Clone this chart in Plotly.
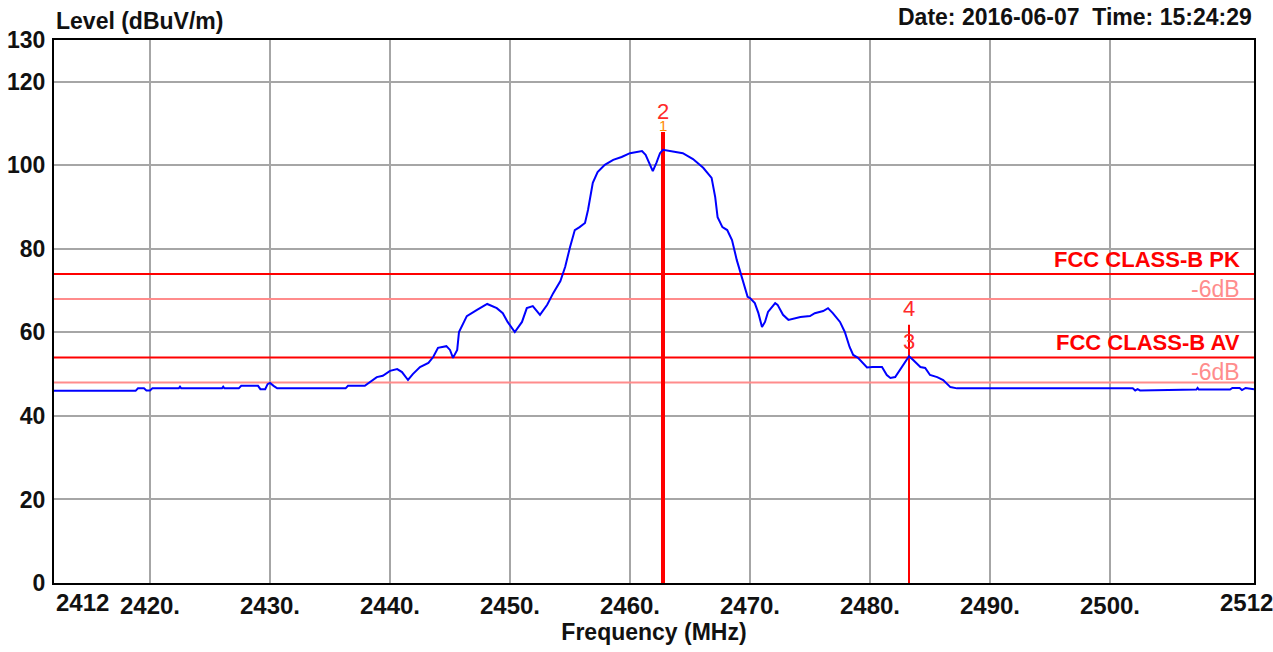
import plotly.graph_objects as go

# ---- data ----
freq_mhz = [
    2412.0, 2418.8, 2419.0, 2419.5, 2419.7, 2420.0, 2420.2, 2422.4, 2422.5, 2422.6,
    2426.0, 2426.1, 2426.2, 2427.4, 2427.6, 2429.0, 2429.2, 2429.6, 2429.8, 2430.0,
    2430.3, 2430.6, 2436.3, 2436.5, 2437.9, 2438.2, 2438.9, 2439.4, 2440.0, 2440.6,
    2441.0, 2441.5, 2441.9, 2442.5, 2443.2, 2443.6, 2444.0, 2444.7, 2445.0, 2445.25,
    2445.6, 2445.75, 2446.4, 2447.25, 2448.1, 2448.9, 2449.4, 2449.8, 2450.4, 2451.0,
    2451.4, 2451.9, 2452.5, 2453.1, 2453.6, 2454.2, 2454.6, 2455.0, 2455.4, 2455.8,
    2456.25, 2456.5, 2456.7, 2456.9, 2457.3, 2457.9, 2458.6, 2459.3, 2460.0, 2461.0,
    2461.3, 2461.7, 2461.9, 2462.2, 2462.5, 2462.75, 2463.6, 2464.4, 2465.25, 2466.1,
    2466.8, 2467.1, 2467.3, 2467.7, 2468.1, 2468.5, 2468.9, 2469.3, 2469.8, 2470.0,
    2470.4, 2470.7, 2471.0, 2471.25, 2471.5, 2472.1, 2472.3, 2472.75, 2473.2, 2474.2,
    2475.0, 2475.4, 2476.1, 2476.5, 2476.9, 2477.5, 2477.9, 2478.3, 2478.6, 2479.0,
    2479.75, 2480.2, 2481.0, 2481.4, 2481.7, 2482.1, 2482.5, 2482.9, 2483.25, 2483.6,
    2484.2, 2484.6, 2485.0, 2485.6, 2486.1, 2486.7, 2487.25, 2501.9, 2502.1, 2502.3,
    2502.5, 2507.2, 2507.3, 2507.4, 2510.0, 2510.2, 2510.8, 2511.0, 2511.3, 2512.0,
]
level_dbuv = [
    46.0, 46.0, 46.6, 46.6, 46.1, 46.1, 46.6, 46.6, 47.0, 46.6,
    46.6, 47.0, 46.6, 46.6, 47.2, 47.2, 46.4, 46.4, 47.6, 47.9,
    47.2, 46.6, 46.6, 47.2, 47.2, 47.9, 49.3, 49.6, 50.8, 51.2,
    50.5, 48.6, 50.0, 51.7, 52.7, 54.1, 56.3, 56.7, 55.8, 53.9,
    55.8, 60.1, 63.9, 65.4, 66.8, 65.8, 64.6, 62.5, 60.1, 62.5,
    65.8, 66.3, 64.2, 66.6, 69.4, 72.3, 75.7, 80.4, 84.5, 85.2,
    86.2, 89.3, 92.4, 95.8, 98.4, 100.1, 101.3, 102.0, 102.9, 103.4,
    102.5, 100.1, 98.6, 100.6, 102.9, 103.7, 103.2, 102.9, 101.5, 99.4,
    97.0, 92.4, 87.6, 85.2, 84.5, 82.1, 77.3, 73.3, 68.5, 68.2,
    67.0, 64.6, 61.3, 62.5, 64.9, 67.0, 66.6, 64.2, 63.0, 63.7,
    63.9, 64.6, 65.1, 65.8, 64.6, 62.5, 60.1, 56.5, 54.6, 53.9,
    51.6, 51.7, 51.7, 49.8, 49.1, 49.3, 51.0, 52.9, 54.3, 53.4,
    51.7, 51.5, 49.8, 49.3, 48.6, 46.9, 46.6, 46.6, 46.1, 46.4,
    46.1, 46.3, 46.7, 46.3, 46.3, 46.7, 46.7, 46.2, 46.7, 46.4,
]

limit_names = ["FCC CLASS-B PK", "-6dB", "FCC CLASS-B AV", "-6dB"]
limit_levels = [74, 68, 54, 48]

marker_ids = ["1", "2", "3", "4"]
marker_freqs = [2462.75, 2462.75, 2483.25, 2483.25]
marker_levels = [108.0, 103.7, 54.3, 61.8]

y_ticks = [0, 20, 40, 60, 80, 100, 120, 130]
x_ticks = [2420, 2430, 2440, 2450, 2460, 2470, 2480, 2490, 2500]
x_tick_text = ["2420.", "2430.", "2440.", "2450.", "2460.", "2470.", "2480.", "2490.", "2500."]
x_range = [2412, 2512]
y_range = [0, 130]

FONT = "Liberation Sans, Arial, sans-serif"
RED = "#ff0000"
PINK = "#ff8c8c"
INK = "#111111"

fig = go.Figure()

# limit lines
for name, lvl in zip(limit_names, limit_levels):
    col = PINK if name == "-6dB" else RED
    fig.add_trace(go.Scatter(x=x_range, y=[lvl, lvl], mode="lines",
                             line=dict(color=col, width=2), hoverinfo="skip",
                             showlegend=False))

# marker lines (1/2 thick, 3/4 thin)
fig.add_trace(go.Scatter(x=[marker_freqs[0], marker_freqs[0]], y=[0, marker_levels[0]],
                         mode="lines", line=dict(color=RED, width=4), showlegend=False))
fig.add_trace(go.Scatter(x=[marker_freqs[3], marker_freqs[3]], y=[0, marker_levels[3]],
                         mode="lines", line=dict(color=RED, width=2), showlegend=False))

# measured trace
fig.add_trace(go.Scatter(x=freq_mhz, y=level_dbuv, mode="lines",
                         line=dict(color="#0000ff", width=2), showlegend=False))

# limit labels
for name, lvl in zip(limit_names, limit_levels):
    if name == "-6dB":
        continue
    fig.add_annotation(x=2511.0, y=lvl, xref="x", yref="y", text="<b>%s</b>" % name,
                       showarrow=False, xanchor="right", yanchor="bottom", yshift=0,
                       font=dict(family=FONT, size=22, color=RED))
    fig.add_annotation(x=2511.0, y=lvl, xref="x", yref="y", text="-6dB",
                       showarrow=False, xanchor="right", yanchor="top", yshift=0,
                       font=dict(family=FONT, size=23, color=PINK))

# marker labels
label_pos = {"1": 109.5, "2": 113.0, "3": 57.7, "4": 65.6}
for mid, f in zip(marker_ids, marker_freqs):
    col = "#ff8a00" if mid == "1" else "#ff2a2a"
    sz = 15 if mid == "1" else 22
    fig.add_annotation(x=f, y=label_pos[mid], xref="x", yref="y", text=mid,
                       showarrow=False, xanchor="center", yanchor="middle",
                       font=dict(family=FONT, size=sz, color=col))

# end tick labels
fig.add_annotation(x=2412, y=0, xref="x", yref="paper", text="<b>2412</b>",
                   showarrow=False, xanchor="left", yanchor="top", xshift=0, yshift=-4,
                   font=dict(family=FONT, size=24, color=INK))
fig.add_annotation(x=2512, y=0, xref="x", yref="paper", text="<b>2512</b>",
                   showarrow=False, xanchor="center", yanchor="top", xshift=-8, yshift=-4,
                   font=dict(family=FONT, size=24, color=INK))

# header texts
fig.add_annotation(x=0, y=1, xref="paper", yref="paper", text="<b>Level (dBuV/m)</b>",
                   showarrow=False, xanchor="left", yanchor="bottom", yshift=4,
                   font=dict(family=FONT, size=23, color=INK))
fig.add_annotation(x=1, y=1, xref="paper", yref="paper",
                   text="<b>Date: 2016-06-07&nbsp;&nbsp;Time: 15:24:29</b>",
                   showarrow=False, xanchor="right", yanchor="bottom", yshift=8,
                   font=dict(family=FONT, size=23, color=INK))

fig.update_xaxes(range=x_range, tickvals=x_ticks, ticktext=x_tick_text,
                 showgrid=True, gridcolor="#a6a6a6", gridwidth=2,
                 showline=True, linecolor="#000", linewidth=2, mirror=True,
                 ticks="", zeroline=False, automargin=False,
                 tickfont=dict(family=FONT, size=24, color=INK, weight="bold"),
                 title=dict(text="<b>Frequency (MHz)</b>", standoff=4,
                            font=dict(family=FONT, size=23, color=INK)))
fig.update_yaxes(range=y_range, tickvals=y_ticks,
                 showgrid=True, gridcolor="#a6a6a6", gridwidth=2,
                 showline=True, linecolor="#000", linewidth=2, mirror=True,
                 ticks="", zeroline=False, ticklabelstandoff=2, automargin=False,
                 tickfont=dict(family=FONT, size=23, color=INK, weight="bold"))

fig.update_layout(width=1273, height=652, autosize=False,
                  margin=dict(l=54, r=19, t=40, b=69),
                  plot_bgcolor="white", paper_bgcolor="white",
                  hovermode=False)

fig.write_html("out.html", config={"displayModeBar": False},
               post_script="document.body.style.margin='0';document.body.style.overflow='hidden';")
